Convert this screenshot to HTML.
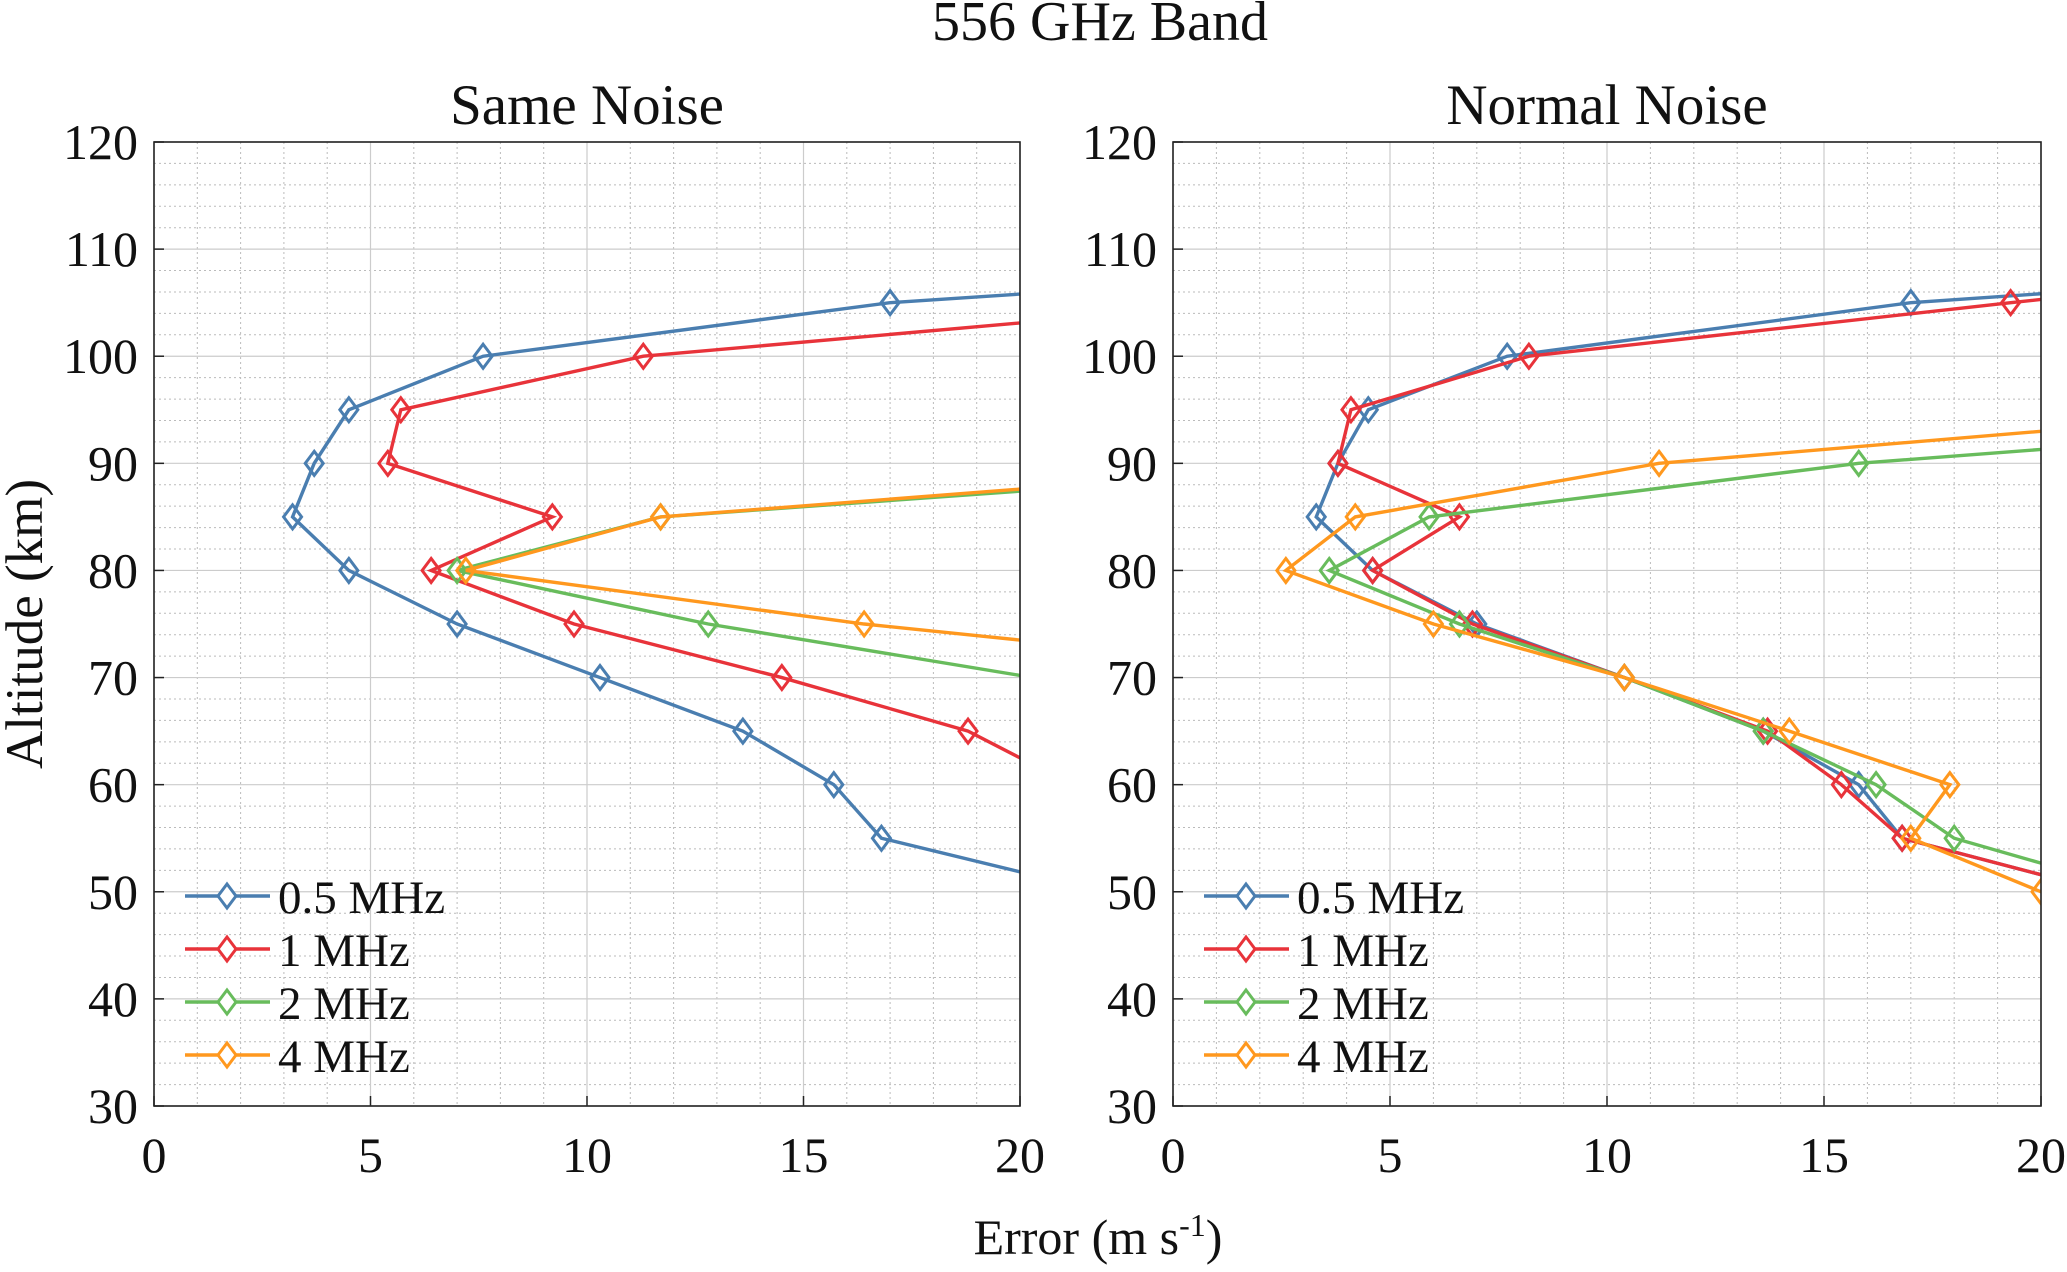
<!DOCTYPE html>
<html><head><meta charset="utf-8"><style>
html,body{margin:0;padding:0;background:#fff}
svg text{font-family:"Liberation Serif",serif;fill:#111}
</style></head><body>
<svg id="c" width="2067" height="1267" xmlns="http://www.w3.org/2000/svg">
<text x="1100" y="40" font-size="56" text-anchor="middle">556 GHz Band</text>
<text x="587" y="124" font-size="57" text-anchor="middle">Same Noise</text>
<text x="1607" y="124" font-size="57" text-anchor="middle">Normal Noise</text>
<text transform="translate(42,624) rotate(-90)" font-size="53" text-anchor="middle">Altitude (km)</text>
<text x="1098" y="1254" font-size="50" text-anchor="middle">Error (m s<tspan dy="-18" font-size="32">-1</tspan><tspan dy="18">)</tspan></text>
</svg>
<script>
const alts=[110,105,100,95,90,85,80,75,70,65,60,55,50];
const seriesNames=["0.5 MHz","1 MHz","2 MHz","4 MHz"];
const colors=["#4a7eb0","#e8333a","#68bc5c","#ff981e"];
const xTicks=[0,5,10,15,20];
const yTicks=[30,40,50,60,70,80,90,100,110,120];
// Same Noise (null = no point)
const sameBlue=[35.7,17.0,7.6,4.5,3.7,3.2,4.5,7.0,10.3,13.6,15.7,16.8,21.9];
const sameRed=[null,25.3,11.3,5.7,5.4,9.2,6.4,9.7,14.5,18.8,21.2,null,null];
const sameGreen=[null,null,null,null,29.0,11.7,7.0,12.8,20.3,null,null,null,null];
const sameOrange=[null,null,null,null,27.7,11.7,7.2,16.4,28.4,null,null,null,null];
// Normal Noise
const normBlue=[35.0,17.0,7.7,4.5,3.8,3.3,4.6,7.0,10.4,13.6,15.8,16.8,21.5];
const normRed=[31.0,19.3,8.2,4.1,3.8,6.6,4.6,6.9,10.4,13.7,15.4,16.8,21.5];
const normGreen=[null,null,null,32.0,15.8,5.9,3.6,6.6,10.4,13.6,16.2,18.0,22.3];
const normOrange=[null,null,null,25.9,11.2,4.2,2.6,6.0,10.4,14.2,17.9,17.0,20.0];

const NS="http://www.w3.org/2000/svg";
const svg=document.getElementById('c');
function mk(t,a,p){const e=document.createElementNS(NS,t);for(const k in a)e.setAttribute(k,a[k]);(p||svg).appendChild(e);return e;}
const yTop=142,yBot=1106;
function dia(x,y){return `M${x},${y-12}L${x+9},${y}L${x},${y+12}L${x-9},${y}Z`;}
function panel(id,x0,x1,data){
  const sx=v=>x0+(v/20)*(x1-x0), sy=v=>yBot-(v-30)/90*(yBot-yTop);
  const g=mk('g',{});
  
  
  for(let v=0;v<=20;v++){if(v%5)mk('line',{x1:sx(v),x2:sx(v),y1:yTop,y2:yBot,stroke:'#bbb','stroke-width':1,'stroke-dasharray':'2,3'},g);}
  for(let v=30;v<=120;v+=2){if(v%10)mk('line',{x1:x0,x2:x1,y1:sy(v),y2:sy(v),stroke:'#bbb','stroke-width':1,'stroke-dasharray':'2,3'},g);}
  xTicks.forEach(v=>{mk('line',{x1:sx(v),x2:sx(v),y1:yTop,y2:yBot,stroke:'#ccc','stroke-width':1.2},g);
    mk('line',{x1:sx(v),x2:sx(v),y1:yBot,y2:yBot-10,stroke:'#222','stroke-width':1.5},g);
    const t=mk('text',{x:sx(v),y:1172,'font-size':50,'text-anchor':'middle'},g);t.textContent=v;
    
    });
  yTicks.forEach(v=>{mk('line',{x1:x0,x2:x1,y1:sy(v),y2:sy(v),stroke:'#ccc','stroke-width':1.2},g);
    mk('line',{x1:x0,x2:x0+10,y1:sy(v),y2:sy(v),stroke:'#222','stroke-width':1.5},g);
    const t=mk('text',{x:x0-16,y:sy(v)+17,'font-size':50,'text-anchor':'end'},g);t.textContent=v;
    
    });
  const clip=mk('clipPath',{id:'cl'+id},g);mk('rect',{x:x0,y:yTop,width:x1-x0,height:yBot-yTop},clip);
  data.forEach((arr,si)=>{
    const pts=[];arr.forEach((v,i)=>{if(v!==null)pts.push([sx(v),sy(alts[i])]);});
    const s=mk('g',{'clip-path':'url(#cl'+id+')'},g);
    
    
    mk('polyline',{points:pts.map(p=>p.join(',')).join(' '),fill:'none',stroke:colors[si],'stroke-width':3.4},s);
    pts.forEach(p=>{const d=mk('path',{d:dia(p[0],p[1]),fill:'none',stroke:colors[si],'stroke-width':3},s);
      
      });
  });
  mk('rect',{x:x0,y:yTop,width:x1-x0,height:yBot-yTop,fill:'none',stroke:'#222','stroke-width':1.6},g);
  const lg=mk('g',{},g);
  
  
  seriesNames.forEach((n,i)=>{const y=896+i*53;
    mk('line',{x1:x0+31,x2:x0+116,y1:y,y2:y,stroke:colors[i],'stroke-width':3.4},lg);
    const cx=x0+73;mk('path',{d:dia(cx,y),fill:'#fff',stroke:colors[i],'stroke-width':3},lg);
    const t=mk('text',{x:x0+124,y:y+17,'font-size':47},lg);t.textContent=n;
    
    });
}
panel('same-noise',154,1020,[sameBlue,sameRed,sameGreen,sameOrange]);
panel('normal-noise',1173,2041,[normBlue,normRed,normGreen,normOrange]);
</script>
</body></html>
